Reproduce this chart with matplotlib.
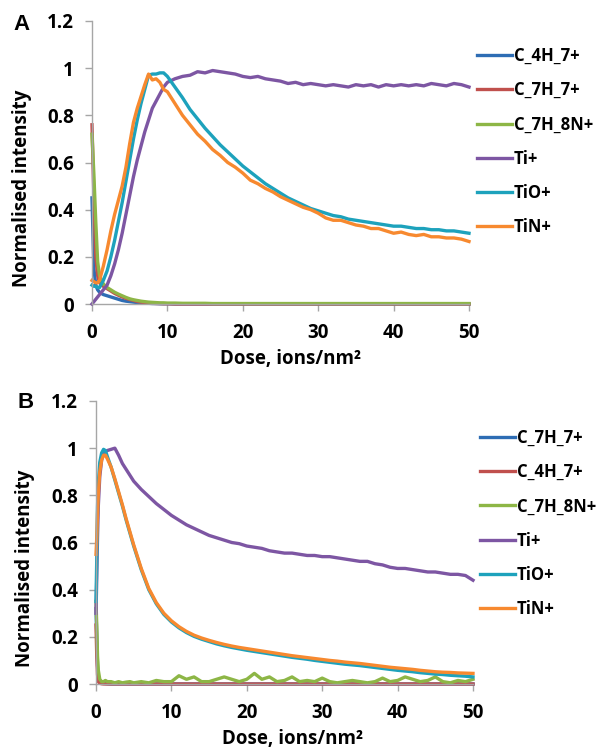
import matplotlib
matplotlib.use("Agg")
import matplotlib.pyplot as plt

# ── Data ─────────────────────────────────────────────────────────────
DOSE_A = [0, 0.25, 0.5, 0.75, 1, 1.5, 2, 2.5, 3, 3.5, 4, 4.5, 5, 5.5, 6, 6.5, 7, 7.5, 8, 8.5, 9, 9.5, 10,
          11, 12, 13, 14, 15, 16, 17, 18, 19, 20, 21, 22, 23, 24, 25, 26, 27, 28, 29, 30,
          31, 32, 33, 34, 35, 36, 37, 38, 39, 40, 41, 42, 43, 44, 45, 46, 47, 48, 49, 50]

A_C4H7 = [0.45, 0.15, 0.08, 0.06, 0.05, 0.04, 0.035, 0.03, 0.025, 0.02, 0.015, 0.012, 0.01, 0.008,
          0.006, 0.005, 0.004, 0.003, 0.002, 0.002, 0.001, 0.001, 0.001,
          0, 0, 0, 0, 0, 0, 0, 0, 0, 0, 0, 0, 0, 0, 0, 0, 0, 0, 0, 0,
          0, 0, 0, 0, 0, 0, 0, 0, 0, 0, 0, 0, 0, 0, 0, 0, 0, 0, 0, 0]
A_C7H7 = [0.76, 0.45, 0.20, 0.12, 0.09, 0.075, 0.065, 0.055, 0.045, 0.037, 0.03, 0.024, 0.019, 0.015,
          0.011, 0.008, 0.006, 0.004, 0.003, 0.002, 0.002, 0.001, 0.001,
          0, 0, 0, 0, 0, 0, 0, 0, 0, 0, 0, 0, 0, 0, 0, 0, 0, 0, 0, 0,
          0, 0, 0, 0, 0, 0, 0, 0, 0, 0, 0, 0, 0, 0, 0, 0, 0, 0, 0, 0]
A_C7H8N = [0.72, 0.55, 0.35, 0.18, 0.12, 0.085, 0.07, 0.06, 0.05, 0.042, 0.035, 0.028, 0.022, 0.018,
           0.015, 0.012, 0.01, 0.008, 0.007, 0.006, 0.005, 0.005, 0.004,
           0.004, 0.003, 0.003, 0.003, 0.003, 0.002, 0.002, 0.002, 0.002, 0.002, 0.002, 0.002,
           0.002, 0.002, 0.002, 0.002, 0.002, 0.002, 0.002, 0.002,
           0.002, 0.002, 0.002, 0.002, 0.002, 0.002, 0.002, 0.002, 0.002, 0.002, 0.002, 0.002,
           0.002, 0.002, 0.002, 0.002, 0.002, 0.002, 0.002, 0.002]
A_TI = [0.00, 0.01, 0.02, 0.03, 0.04, 0.06, 0.08, 0.12, 0.17, 0.23, 0.30, 0.38, 0.46, 0.54, 0.61,
        0.67, 0.73, 0.78, 0.83, 0.86, 0.89, 0.92, 0.94,
        0.955, 0.965, 0.97, 0.985, 0.98, 0.99, 0.985, 0.98, 0.975, 0.965,
        0.96, 0.965, 0.955, 0.95, 0.945, 0.935, 0.94, 0.93, 0.935, 0.93,
        0.925, 0.93, 0.925, 0.92, 0.93, 0.925, 0.93, 0.92, 0.93, 0.925,
        0.93, 0.925, 0.93, 0.925, 0.935, 0.93, 0.925, 0.935, 0.93, 0.92]
A_TIO = [0.08, 0.075, 0.075, 0.07, 0.07, 0.10, 0.14, 0.20, 0.27, 0.35, 0.43, 0.52, 0.61, 0.70, 0.78,
         0.85, 0.91, 0.97, 0.975, 0.975, 0.98, 0.98, 0.965,
         0.92, 0.875, 0.825, 0.785, 0.745, 0.71, 0.675, 0.645, 0.615, 0.585,
         0.56, 0.535, 0.51, 0.49, 0.47, 0.45, 0.435, 0.42, 0.405, 0.395,
         0.385, 0.375, 0.37, 0.36, 0.355, 0.35, 0.345, 0.34, 0.335, 0.33,
         0.33, 0.325, 0.32, 0.32, 0.315, 0.315, 0.31, 0.31, 0.305, 0.30]
A_TIN = [0.10, 0.095, 0.09, 0.09, 0.10, 0.16, 0.23, 0.31, 0.38, 0.44, 0.50, 0.58, 0.68, 0.77, 0.83,
         0.88, 0.93, 0.975, 0.95, 0.955, 0.94, 0.91, 0.90,
         0.85, 0.80, 0.76, 0.72, 0.69, 0.655, 0.63, 0.60, 0.58, 0.555,
         0.525, 0.51, 0.49, 0.475, 0.455, 0.44, 0.425, 0.41, 0.40, 0.385,
         0.365, 0.355, 0.355, 0.345, 0.335, 0.33, 0.32, 0.32, 0.31, 0.30,
         0.305, 0.295, 0.29, 0.295, 0.285, 0.285, 0.28, 0.28, 0.275, 0.265]

DOSE_B = [0, 0.1, 0.2, 0.3, 0.5, 0.75, 1, 1.25, 1.5, 2, 2.5, 3, 3.5, 4, 4.5, 5,
          6, 7, 8, 9, 10, 11, 12, 13, 14, 15, 16, 17, 18, 19, 20, 21, 22, 23, 24, 25,
          26, 27, 28, 29, 30, 31, 32, 33, 34, 35, 36, 37, 38, 39, 40, 41, 42, 43, 44, 45,
          46, 47, 48, 49, 50]

B_C7H7 = [0.32, 0.20, 0.08, 0.03, 0.01, 0.005, 0.003, 0.002, 0.001, 0, 0, 0, 0, 0, 0, 0,
          0, 0, 0, 0, 0, 0, 0, 0, 0, 0, 0, 0, 0, 0, 0, 0, 0, 0, 0, 0,
          0, 0, 0, 0, 0, 0, 0, 0, 0, 0, 0, 0, 0, 0, 0, 0, 0, 0, 0, 0,
          0, 0, 0, 0, 0]
B_C4H7 = [0.25, 0.12, 0.04, 0.01, 0.003, 0.001, 0, 0, 0, 0, 0, 0, 0, 0, 0, 0,
          0, 0, 0, 0, 0, 0, 0, 0, 0, 0, 0, 0, 0, 0, 0, 0, 0, 0, 0, 0,
          0, 0, 0, 0, 0, 0, 0, 0, 0, 0, 0, 0, 0, 0, 0, 0, 0, 0, 0, 0,
          0, 0, 0, 0, 0]
B_C7H8N = [0.35, 0.25, 0.12, 0.06, 0.02, 0.01, 0.01, 0.015, 0.01, 0.01, 0.005, 0.01, 0.005, 0.008,
           0.01, 0.005,
           0.01, 0.005, 0.015, 0.01, 0.01, 0.035, 0.02, 0.03, 0.01, 0.01,
           0.02, 0.03, 0.02, 0.01, 0.02, 0.045, 0.02, 0.03, 0.01, 0.015,
           0.03, 0.01, 0.015, 0.01, 0.025, 0.01, 0.005, 0.01, 0.015, 0.01,
           0.005, 0.01, 0.025, 0.01, 0.015, 0.03, 0.02, 0.01, 0.015, 0.03,
           0.01, 0.005, 0.015, 0.01, 0.02]
B_TI = [0.30, 0.45, 0.62, 0.75, 0.88, 0.95, 0.975, 0.985, 0.99, 0.995, 1.0, 0.97, 0.935, 0.91,
        0.885, 0.86,
        0.825, 0.795, 0.765, 0.74, 0.715, 0.695, 0.675, 0.66, 0.645, 0.63,
        0.62, 0.61, 0.60, 0.595, 0.585, 0.58, 0.575, 0.565, 0.56, 0.555,
        0.555, 0.55, 0.545, 0.545, 0.54, 0.54, 0.535, 0.53, 0.525, 0.52,
        0.52, 0.51, 0.505, 0.495, 0.49, 0.49, 0.485, 0.48, 0.475, 0.475,
        0.47, 0.465, 0.465, 0.46, 0.44]
B_TIO = [0.35, 0.53, 0.75, 0.85, 0.94, 0.98, 0.995, 0.99, 0.965, 0.92, 0.865, 0.81, 0.755, 0.695,
         0.64, 0.585,
         0.485, 0.40, 0.34, 0.295, 0.263, 0.238, 0.218, 0.202, 0.19, 0.18,
         0.17, 0.162, 0.155, 0.149, 0.143, 0.138, 0.133, 0.128, 0.123, 0.118,
         0.113, 0.109, 0.105, 0.10, 0.096, 0.092, 0.088, 0.084, 0.081, 0.078,
         0.074, 0.07, 0.066, 0.062, 0.058, 0.055, 0.052, 0.048, 0.045, 0.042,
         0.04, 0.037, 0.035, 0.033, 0.03]
B_TIN = [0.55, 0.62, 0.72, 0.80, 0.90, 0.95, 0.97, 0.97, 0.955, 0.92, 0.87, 0.815, 0.76, 0.70,
         0.645, 0.59,
         0.49, 0.405, 0.345, 0.30, 0.268, 0.243, 0.223, 0.207, 0.195, 0.185,
         0.176, 0.168, 0.161, 0.155, 0.15, 0.145, 0.14, 0.135, 0.13, 0.125,
         0.12, 0.116, 0.112, 0.108, 0.104, 0.10, 0.097, 0.093, 0.09, 0.087,
         0.083, 0.079, 0.075, 0.071, 0.068, 0.065, 0.062, 0.058, 0.055, 0.052,
         0.05, 0.049, 0.047, 0.046, 0.045]

LABELS_A = ["C_4H_7+", "C_7H_7+", "C_7H_8N+", "Ti+", "TiO+", "TiN+"]
LABELS_B = ["C_7H_7+", "C_4H_7+", "C_7H_8N+", "Ti+", "TiO+", "TiN+"]
Y_TICKS = [0, 0.2, 0.4, 0.6, 0.8, 1.0, 1.2]
Y_TICKLABELS = ["0", "0.2", "0.4", "0.6", "0.8", "1", "1.2"]
X_TICKS = [0, 10, 20, 30, 40, 50]

# ── Style ────────────────────────────────────────────────────────────
COLORS = ["#2E6DB4", "#C0504D", "#8DB646", "#7D56A3", "#1DA2BC", "#F7892F"]
FONT = "Open Sans"
FS_TICK = 13.5
FS_LAB = 13.5
FS_LEG = 12
SPINE = "#A6A6A6"

plt.rcParams["font.family"] = [FONT, "DejaVu Sans"]
plt.rcParams["font.weight"] = "bold"

W, H = 605, 748
fig = plt.figure(figsize=(W / 100, H / 100), dpi=100)


def px_axes(left, top, right, bottom):
    return fig.add_axes([left / W, 1 - bottom / H, (right - left) / W, (bottom - top) / H])


def draw_panel(ax, dose, series, labels, letter, legend_xy, letter_xy, ylab_xy, xlab_xy):
    for ys, lab, c in zip(series, labels, COLORS):
        ax.plot(dose, ys, color=c, lw=2.4, label=lab, clip_on=False, solid_joinstyle="round")
    ax.set_xlim(0, 50)
    ax.set_ylim(0, 1.2)
    ax.set_xticks(X_TICKS)
    ax.set_yticks(Y_TICKS)
    ax.set_yticklabels(Y_TICKLABELS)
    for s in ["top", "right"]:
        ax.spines[s].set_visible(False)
    for s in ["left", "bottom"]:
        ax.spines[s].set_color(SPINE)
        ax.spines[s].set_linewidth(1.0)
    ax.tick_params(axis="both", direction="out", length=5, width=1.0, color=SPINE,
                   labelsize=FS_TICK)
    ax.tick_params(axis="y", pad=8)
    ax.tick_params(axis="x", pad=9)
    for t in ax.get_xticklabels() + ax.get_yticklabels():
        t.set_fontweight("bold")

    ax.legend(loc="upper left", bbox_to_anchor=(legend_xy[0] / W, 1 - legend_xy[1] / H),
              bbox_transform=fig.transFigure, frameon=False,
              handlelength=2.1, handletextpad=0.1, labelspacing=0.97,
              borderpad=0, borderaxespad=0, prop={"weight": "bold", "size": FS_LEG})

    fig.text(letter_xy[0] / W, 1 - letter_xy[1] / H, letter, fontsize=16,
             fontweight="bold", ha="center", va="center", family="Liberation Sans")
    fig.text(ylab_xy[0] / W, 1 - ylab_xy[1] / H, "Normalised intensity", rotation=90,
             fontsize=FS_LAB, fontweight="bold", ha="center", va="center")
    fig.text(xlab_xy[0] / W, 1 - xlab_xy[1] / H, "Dose, ions/nm\u00b2",
             fontsize=FS_LAB, fontweight="bold", ha="center", va="center")


ax_a = px_axes(92, 21, 469, 304)
draw_panel(ax_a, DOSE_A, [A_C4H7, A_C7H7, A_C7H8N, A_TI, A_TIO, A_TIN], LABELS_A,
           "A", (477, 47), (22, 25), (22, 188), (290, 359))

ax_b = px_axes(96, 401, 473, 684)
draw_panel(ax_b, DOSE_B, [B_C7H7, B_C4H7, B_C7H8N, B_TI, B_TIO, B_TIN], LABELS_B,
           "B", (480, 429), (26, 402), (25, 568), (292, 739))

fig.savefig("out.png", dpi=100, facecolor="white")
